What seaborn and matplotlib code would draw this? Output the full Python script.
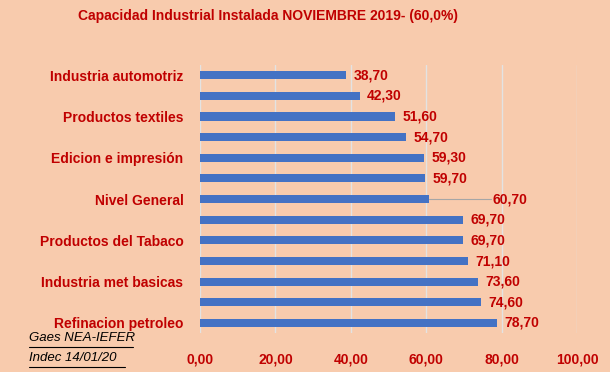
import matplotlib
matplotlib.use("Agg")
import matplotlib.pyplot as plt
import seaborn as sns
import pandas as pd

# data (top to bottom)
tick_labels = ["Industria automotriz", "", "Productos textiles", "", "Edicion e impresión", "",
               "Nivel General", "", "Productos del Tabaco", "", "Industria met basicas", "",
               "Refinacion petroleo"]
values = [38.7, 42.3, 51.6, 54.7, 59.3, 59.7, 60.7, 69.7, 69.7, 71.1, 73.6, 74.6, 78.7]
xticks = [0, 20, 40, 60, 80, 100]

BG = "#F8CBAD"
RED = "#C00000"
BLUE = "#4472C4"

sns.set_style("white")
plt.rcParams['font.family'] = ['Liberation Sans Narrow', 'Liberation Sans', 'DejaVu Sans']

df = pd.DataFrame({"pos": [str(i) for i in range(len(values))], "value": values})

fig = plt.figure(figsize=(6.1, 3.72), dpi=100, facecolor=BG)
ax = fig.add_axes([0.328, 0.104, 0.618, 0.722])
ax.set_facecolor(BG)

sns.barplot(data=df, x="value", y="pos", orient="h", color=BLUE, width=0.4,
            saturation=1, edgecolor="none", linewidth=0, ax=ax)

ax.set_xlim(0, 100)
ax.set_ylim(len(values) - 0.5, -0.5)
ax.set_xticks(xticks)
ax.set_xticklabels([f"{t:.2f}".replace(".", ",") for t in xticks], color=RED,
                   fontsize=10, fontweight="semibold")
ax.set_yticks(range(len(values)))
ax.set_yticklabels(tick_labels, color=RED, fontsize=10, fontweight="semibold")
ax.tick_params(axis="y", length=0, pad=12)
ax.tick_params(axis="x", length=0, pad=14)
ax.set_xlabel("")
ax.set_ylabel("")
ax.grid(axis="x", color="#E3E3E3", linewidth=1)
ax.set_axisbelow(True)
for s in ax.spines.values():
    s.set_visible(False)

# value labels
for i, v in enumerate(values):
    txt = f"{v:.2f}".replace(".", ",")
    if tick_labels[i] == "Nivel General":
        ax.plot([v, v + 16.5], [i, i], color="#A6A6A6", linewidth=0.8)
        ax.text(v + 17, i, txt, va="center", ha="left", color=RED, fontsize=10, fontweight="semibold")
    else:
        ax.text(v + 2, i, txt, va="center", ha="left", color=RED, fontsize=10, fontweight="semibold")

fig.text(0.44, 0.958, "Capacidad Industrial Instalada NOVIEMBRE 2019- (60,0%)", ha="center",
         va="center", color=RED, fontsize=10, fontweight="bold")
fig.text(0.047, 0.092, "Gaes NEA-IEFER", ha="left", va="center", fontsize=9.5,
         style="italic", color="black")
fig.text(0.047, 0.038, "Indec 14/01/20", ha="left", va="center", fontsize=9.5,
         style="italic", color="black")
fig.add_artist(plt.Line2D([0.047, 0.218], [0.067, 0.067], color="black", linewidth=0.8))
fig.add_artist(plt.Line2D([0.047, 0.205], [0.013, 0.013], color="black", linewidth=0.8))

fig.savefig("out.png", dpi=100, facecolor=BG)
